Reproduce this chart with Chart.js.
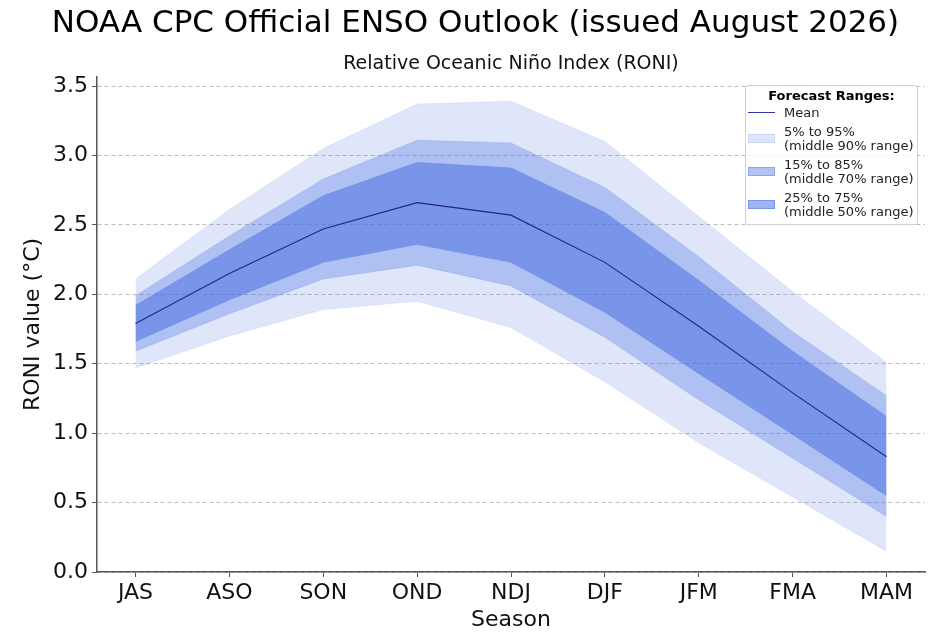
<!DOCTYPE html>
<html>
<head>
<meta charset="utf-8">
<title>NOAA CPC ENSO Outlook</title>
<script src="https://cdn.jsdelivr.net/npm/chart.js@4.4.1/dist/chart.umd.min.js"></script>
<style>
    body { margin: 0; background: #fff; }
    #wrap { position: relative; width: 951px; height: 637px; }
    #legendBox {
        position: absolute; left: 745px; top: 85px; width: 173px; height: 140px;
        border: 1px solid #d0d0d0; border-radius: 3px; background: rgba(255,255,255,0.8);
        font-family: "DejaVu Sans", sans-serif; font-size: 13px; color: #222;
        box-sizing: border-box;
    }
    #legendBox .ttl { position: absolute; top: 2px; left: 0; width: 100%; text-align: center; font-weight: bold; color: #000; }
    #legendBox .sw { position: absolute; left: 2px; width: 27px; height: 9px; }
    #legendBox .txt { position: absolute; left: 38px; line-height: 14px; white-space: nowrap; }
</style>
</head>
<body>
<div id="wrap">
    <canvas id="ensoChart" width="951" height="637"></canvas>
    <div id="legendBox"></div>
</div>
<script>
// Seasons and forecast percentiles (RONI, deg C)
const seasons = ['JAS', 'ASO', 'SON', 'OND', 'NDJ', 'DJF', 'JFM', 'FMA', 'MAM'];
const meanVals = [1.79, 2.15, 2.47, 2.66, 2.57, 2.23, 1.77, 1.29, 0.83];
const p5  = [1.47, 1.70, 1.89, 1.95, 1.76, 1.37, 0.93, 0.54, 0.15];
const p15 = [1.59, 1.86, 2.11, 2.21, 2.06, 1.69, 1.24, 0.82, 0.40];
const p25 = [1.66, 1.96, 2.23, 2.36, 2.23, 1.87, 1.43, 0.99, 0.55];
const p75 = [1.92, 2.32, 2.71, 2.95, 2.91, 2.59, 2.10, 1.59, 1.12];
const p85 = [1.99, 2.42, 2.83, 3.11, 3.09, 2.77, 2.27, 1.73, 1.27];
const p95 = [2.11, 2.61, 3.05, 3.37, 3.39, 3.10, 2.56, 2.02, 1.51];
const yTicks = [0, 0.5, 1.0, 1.5, 2.0, 2.5, 3.0, 3.5];

const FONT = '"DejaVu Sans", sans-serif';
const blue = a => `rgba(65, 105, 225, ${a})`;
const bandAlpha = { outer: 0.17, mid: 0.3, inner: 0.5 };

function pts(vals) {
    return vals.map((v, i) => ({ x: i, y: v }));
}

function edge(label, vals, alpha, fill) {
    return {
        label: label,
        data: pts(vals),
        borderColor: blue(alpha * 0.6),
        borderWidth: 1,
        backgroundColor: blue(alpha),
        pointRadius: 0,
        tension: 0,
        fill: fill
    };
}

const datasets = [
    { label: 'Mean', data: pts(meanVals), borderColor: '#23238c', borderWidth: 1.1,
      pointRadius: 0, tension: 0, fill: false },
    edge('25% to 75%', p75, bandAlpha.inner, '+1'),
    edge('p25', p25, bandAlpha.inner, false),
    edge('15% to 85%', p85, bandAlpha.mid, '+1'),
    edge('p15', p15, bandAlpha.mid, false),
    edge('5% to 95%', p95, bandAlpha.outer, '+1'),
    edge('p5', p5, bandAlpha.outer, false)
];

new Chart(document.getElementById('ensoChart'), {
    type: 'line',
    data: { datasets: datasets },
    options: {
        responsive: false,
        animation: false,
        layout: { padding: 0 },
        plugins: {
            legend: { display: false },
            tooltip: { enabled: false },
            title: {
                display: true,
                text: 'NOAA CPC Official ENSO Outlook (issued August 2026)',
                color: '#000',
                font: { family: FONT, size: 31, weight: 'normal', lineHeight: 1.2 },
                padding: { top: 5, bottom: 0 }
            },
            subtitle: {
                display: true,
                fullSize: false,
                text: 'Relative Oceanic Niño Index (RONI)',
                color: '#111',
                font: { family: FONT, size: 19, lineHeight: 1.2 },
                padding: { top: 10, bottom: 2 }
            }
        },
        scales: {
            x: {
                type: 'linear',
                min: -0.41,
                max: 8.41,
                afterFit: s => { s.height = 65; },
                ticks: {
                    stepSize: 1,
                    includeBounds: false,
                    autoSkip: false,
                    maxRotation: 0,
                    padding: 3,
                    color: '#111',
                    font: { family: FONT, size: 22 },
                    callback: v => seasons[v] || ''
                },
                grid: { drawOnChartArea: false, drawTicks: true, tickLength: 5, tickColor: '#555', tickWidth: 1 },
                border: { display: true, color: '#555', width: 1.5 },
                title: {
                    display: true, text: 'Season', color: '#111',
                    font: { family: FONT, size: 22 }, padding: { top: 0, bottom: 4 }
                }
            },
            y: {
                min: 0,
                max: 3.565,
                afterFit: s => { s.width = 97; },
                afterBuildTicks: s => { s.ticks = yTicks.map(v => ({ value: v })); },
                ticks: {
                    padding: 4,
                    color: '#111',
                    font: { family: FONT, size: 22 },
                    callback: v => Number(v).toFixed(1)
                },
                grid: { color: '#bdbdbd', lineWidth: 1, drawTicks: true, tickLength: 5, tickColor: '#555', tickWidth: 1 },
                border: { display: true, color: '#555', width: 1.5, dash: [4, 3] },
                title: {
                    display: true, text: 'RONI value (°C)', color: '#111',
                    font: { family: FONT, size: 22 }, padding: { top: 20, bottom: 0 }
                }
            },
            // empty right margin so the main title stays centred on the page
            yRight: {
                position: 'right',
                afterFit: s => { s.width = 26; },
                ticks: { display: false },
                grid: { display: false },
                border: { display: false }
            }
        }
    }
});

// Legend box (HTML overlay)
const legendItems = [
    { kind: 'line', lines: ['Mean'] },
    { kind: 'patch', alpha: bandAlpha.outer, lines: ['5% to 95%', '(middle 90% range)'] },
    { kind: 'patch', alpha: bandAlpha.mid + 0.1, lines: ['15% to 85%', '(middle 70% range)'] },
    { kind: 'patch', alpha: bandAlpha.inner, lines: ['25% to 75%', '(middle 50% range)'] }
];
const legendBox = document.getElementById('legendBox');
let html = '<div class="ttl">Forecast Ranges:</div>';
let legendY = 20;
legendItems.forEach(item => {
    const h = item.lines.length * 14;
    if (item.kind === 'line') {
        html += `<div class="sw" style="top:${legendY + h / 2 - 1}px;height:0;border-top:1px solid #3535a8;"></div>`;
    } else {
        html += `<div class="sw" style="top:${legendY + h / 2 - 5}px;background:${blue(item.alpha)};border:1px solid ${blue(item.alpha * 0.8)};box-sizing:border-box;"></div>`;
    }
    html += `<div class="txt" style="top:${legendY}px;">${item.lines.join('<br>')}</div>`;
    legendY += h + 5;
});
legendBox.innerHTML = html;
</script>
</body>
</html>
